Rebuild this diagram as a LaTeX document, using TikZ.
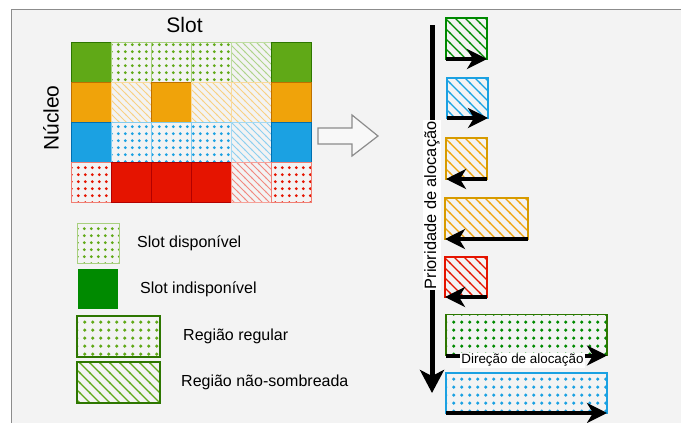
\documentclass[tikz,border=0pt]{standalone}
\usepackage{fontspec}
\setmainfont{Liberation Sans}
\usetikzlibrary{arrows.meta,patterns.meta,positioning}

\definecolor{panel}{HTML}{F3F3F3}
\definecolor{frame}{HTML}{8C8C8C}
\definecolor{gfill}{HTML}{60A917}
\definecolor{gline}{HTML}{2D7600}
\definecolor{ofill}{HTML}{F0A30A}
\definecolor{oline}{HTML}{BD7000}
\definecolor{odark}{HTML}{D79B00}
\definecolor{bfill}{HTML}{1BA1E2}
\definecolor{bline}{HTML}{006EAF}
\definecolor{rfill}{HTML}{E51400}
\definecolor{rline}{HTML}{B20000}
\definecolor{dgreen}{HTML}{008A00}
\definecolor{dgline}{HTML}{005700}

% patterns for the slots
\tikzdeclarepattern{
  name=smalldots,
  type=uncolored,
  bounding box={(0pt,0pt) and (6.8pt,6.8pt)},
  tile size={(6.8pt,6.8pt)},
  code={\fill (3.4pt,3.4pt) circle (1.6pt);}
}
\tikzdeclarepattern{
  name=bigdots,
  type=uncolored,
  bounding box={(0pt,0pt) and (8.2pt,8.2pt)},
  tile size={(8.2pt,8.2pt)},
  code={\fill (4.1pt,4.1pt) circle (1.9pt);}
}
\tikzdeclarepattern{
  name=smallhatch,
  type=uncolored,
  bounding box={(-1pt,-1pt) and (8pt,8pt)},
  tile size={(7pt,7pt)},
  code={\draw[line width=0.8pt] (-1pt,8pt) -- (8pt,-1pt);}
}
\tikzdeclarepattern{
  name=bighatch,
  type=uncolored,
  bounding box={(-1pt,-1pt) and (11pt,11pt)},
  tile size={(10pt,10pt)},
  code={\draw[line width=1.2pt] (-1pt,11pt) -- (11pt,-1pt);}
}

\begin{document}
\begin{tikzpicture}[x=1pt, y=-1pt,
    cell/.style={rectangle, minimum width=40pt, minimum height=40pt, inner sep=0pt, outer sep=0pt, line width=0.8pt},
    fullcell/.style={cell, draw=#1line, fill=#1fill},
    dotcell/.style={cell, draw=#1fill!55, pattern=smalldots, pattern color=#1fill},
    hatchcell/.style={cell, draw=#1fill!40, pattern=smallhatch, pattern color=#1fill!50},
    regbox/.style={rectangle, inner sep=0pt, outer sep=0pt, minimum width=83pt, minimum height=41pt, line width=2pt},
    hatchbox/.style={rectangle, inner sep=0pt, outer sep=0pt, minimum width=41pt, minimum height=41pt, line width=1.5pt, draw=#1, pattern=bighatch, pattern color=#1},
    dotbox/.style={rectangle, inner sep=0pt, outer sep=0pt, minimum width=161pt, minimum height=41pt, line width=1.8pt, draw=#1, pattern=bigdots},
    titletext/.style={font=\fontsize{21}{25}\selectfont, inner sep=0pt},
    legtext/.style={font=\fontsize{16}{19}\selectfont, inner sep=0pt},
    flow/.style={line width=4pt, -{Stealth[length=20pt, width=20pt, inset=6pt]}},
    bigflow/.style={line width=5pt, -{Stealth[length=23pt, width=24pt, inset=6pt]}},
    hollow/.style={draw=frame, fill=panel!60!white, line width=1.2pt, line join=miter}]

    \useasboundingbox (0,0) rectangle (681,423);

    % Panel
    \fill[white] (0,0) rectangle (681,423);
    \fill[panel] (11,9) rectangle (681,423);
    \draw[frame, line width=1pt] (681,9) -- (11,9) -- (11,423);

    % Slot grid
    \foreach \st [count=\i] in {fullcell,dotcell,dotcell,dotcell,hatchcell,fullcell}
        \node[\st=g] (g\i) at (51+40*\i,62) {};
    \foreach \st [count=\i] in {fullcell,hatchcell,fullcell,hatchcell,hatchcell,fullcell}
        \node[\st=o] (o\i) at (51+40*\i,102) {};
    \foreach \st [count=\i] in {fullcell,dotcell,dotcell,dotcell,hatchcell,fullcell}
        \node[\st=b] (b\i) at (51+40*\i,142) {};
    \foreach \st [count=\i] in {dotcell,fullcell,fullcell,fullcell,hatchcell,dotcell}
        \node[\st=r] (r\i) at (51+40*\i,182) {};

    \node[titletext] (slot) at (184.5,25) {Slot};
    \node[titletext, rotate=90] (nucleo) at (51,118) {Núcleo};

    % Legend
    \node[dotcell=g, minimum width=42pt] (legfree) at (98,243) {};
    \node[cell, fill=dgreen] (legbusy) at (98,289) {};
    \node[regbox, draw=gline, pattern=bigdots, pattern color=gfill] (legreg) at (118.5,336.5) {};
    \node[regbox, draw=gline, pattern=bighatch, pattern color=gfill] (legfrag) at (118.5,382.5) {};

    \node[legtext, right=18pt of legfree] (tfree) {Slot disponível};
    \node[legtext, right=22pt of legbusy] (tbusy) {Slot indisponível};
    \node[legtext, right=23pt of legreg] (treg) {Região regular};
    \node[legtext, right=21pt of legfrag] (tfrag) {Região não-sombreada};

    % Hollow arrow
    \draw[hollow] (318,128) -- (352,128) -- (352,115) -- (378,136) -- (352,156) -- (352,144) -- (318,144) -- cycle;

    % Allocation order
    \node[hatchbox=dgreen] (p1) at (466.5,38.5) {};
    \node[hatchbox=bfill, minimum height=40pt] (p2) at (467.5,98) {};
    \node[hatchbox=odark, pattern color=ofill] (p3) at (466.5,158.5) {};
    \node[hatchbox=odark, pattern color=ofill, minimum width=83pt] (p4) at (486.5,218.5) {};
    \node[hatchbox=rfill, minimum width=42pt, minimum height=40pt] (p5) at (466,277) {};
    \node[dotbox=dgreen, pattern color=dgreen, draw=gline] (p6) at (526.5,335) {};
    \node[dotbox=bfill, pattern color=bfill, minimum height=40pt] (p7) at (526.5,393) {};

    \draw[flow] (p1.south west) -- (p1.south east);
    \draw[flow] (p2.south west) -- (p2.south east);
    \draw[flow] (p3.south east) -- (p3.south west);
    \draw[flow] (p4.south east) -- (p4.south west);
    \draw[flow] (p5.south east) -- (p5.south west);
    \draw[flow] (p6.south west) -- (p6.south east)
        node[midway, xshift=-4pt, yshift=-5pt, fill=white, inner sep=1pt, font=\fontsize{13.4}{15}\selectfont] (dir) {Direção de alocação};
    \draw[flow] (p7.south west) -- (p7.south east);

    % Priority
    \coordinate (prtop) at (432,25);
    \coordinate (prbot) at (432,393);
    \draw[bigflow] (prtop) -- (prbot)
        node[pos=0.49, rotate=90, fill=white, inner sep=1pt, font=\fontsize{16.4}{19}\selectfont] (prio) {Prioridade de alocação};
\end{tikzpicture}
\end{document}
